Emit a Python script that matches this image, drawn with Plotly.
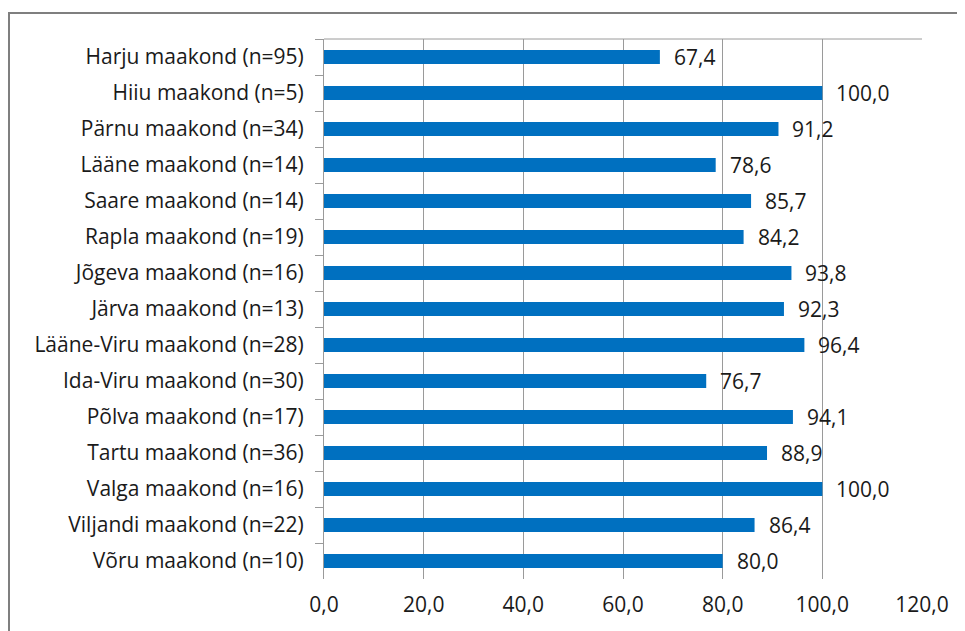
import plotly.graph_objects as go

categories = [
    "Harju maakond (n=95)", "Hiiu maakond (n=5)", "Pärnu maakond (n=34)",
    "Lääne maakond (n=14)", "Saare maakond (n=14)", "Rapla maakond (n=19)",
    "Jõgeva maakond (n=16)", "Järva maakond (n=13)", "Lääne-Viru maakond (n=28)",
    "Ida-Viru maakond (n=30)", "Põlva maakond (n=17)", "Tartu maakond (n=36)",
    "Valga maakond (n=16)", "Viljandi maakond (n=22)", "Võru maakond (n=10)",
]
values = [67.4, 100.0, 91.2, 78.6, 85.7, 84.2, 93.8, 92.3, 96.4, 76.7, 94.1, 88.9, 100.0, 86.4, 80.0]
tick_vals = [0, 20, 40, 60, 80, 100, 120]

FONT = "Open Sans"
FS = 21
TXT = "#1a1a1a"
GRID = "#9a9a9a"

fig = go.Figure()
fig.add_trace(go.Bar(
    x=values, y=categories, orientation="h",
    marker=dict(color="#0070C0", line=dict(width=0)),
    hoverinfo="skip",
))

annotations = []
for c, v in zip(categories, values):
    annotations.append(dict(
        x=v, y=c, xref="x", yref="y", text=f"{v:.1f}".replace(".", ","),
        showarrow=False, xanchor="left", yanchor="middle", xshift=12,
        font=dict(family=FONT, size=FS, color=TXT),
    ))

L, T, PW, PH = 316, 31, 598, 540

fig.update_layout(
    width=965, height=631,
    margin=dict(l=L, r=965 - L - PW, t=T, b=631 - T - PH, autoexpand=False),
    paper_bgcolor="white", plot_bgcolor="white",
    separators=", ",
    bargap=0.61,
    showlegend=False,
    annotations=annotations,
    font=dict(family=FONT, size=FS, color=TXT),
    xaxis=dict(
        range=[0, 120], tickvals=tick_vals, tickformat=".1f",
        showgrid=True, gridcolor=GRID, gridwidth=1,
        zeroline=False, showline=False, ticks="",
        tickfont=dict(family=FONT, size=FS, color=TXT),
        ticklabelstandoff=11,
        fixedrange=True,
    ),
    yaxis=dict(
        categoryorder="array", categoryarray=categories, autorange="reversed",
        showline=True, linecolor=GRID, linewidth=1,
        ticks="outside", ticklen=8, tickcolor=GRID, tickson="boundaries",
        showgrid=False, zeroline=False,
        tickfont=dict(family=FONT, size=FS, color=TXT),
        ticklabelstandoff=15,
        fixedrange=True,
    ),
    shapes=[
        dict(type="line", xref="paper", yref="paper", x0=0, x1=1, y0=1, y1=1,
             line=dict(color=GRID, width=1)),
        dict(type="rect", xref="paper", yref="paper",
             x0=(9 - 324) / PW, x1=1.2, y0=-0.3, y1=(579 - 13) / PH,
             line=dict(color="#7f7f7f", width=2), fillcolor="rgba(0,0,0,0)",
             layer="above"),
    ],
)

fig.write_html("out.html")
